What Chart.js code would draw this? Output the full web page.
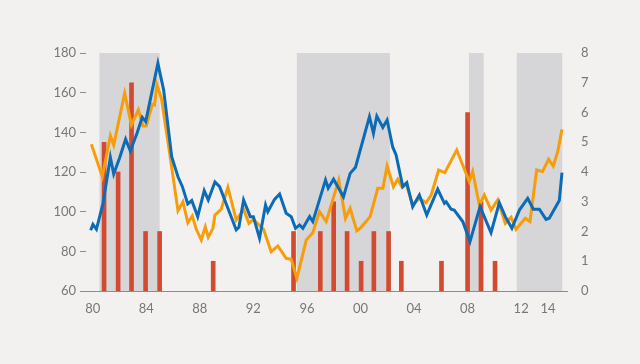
<!DOCTYPE html>
<html>
<head>
<meta charset="utf-8">
<script src="https://cdn.jsdelivr.net/npm/chart.js@4"></script>
<style>
  html, body { margin: 0; padding: 0; background: #f2f1ef; }
  #wrap { width: 640px; height: 364px; position: relative; }
</style>
</head>
<body>
<div id="wrap"><canvas id="chart" width="640" height="364"></canvas></div>
<script>
// x tick years and labels
const tickYears = [1980, 1984, 1988, 1992, 1996, 2000, 2004, 2008, 2012, 2014];
const tickLabels = ['80', '84', '88', '92', '96', '00', '04', '08', '12', '14'];

// shaded periods
const shadeStart = [1980.5, 1995.25, 2008.1, 2011.67];
const shadeEnd = [1985.0, 2002.2, 2009.2, 2015.07];

// red bars (right axis)
const barYears = [1980.85, 1981.9, 1982.9, 1983.95, 1985.0, 1989.0, 1995.0, 1997.0, 1998.0, 1999.0,
  2000.05, 2001.0, 2002.1, 2003.05, 2006.05, 2008.0, 2009.0, 2010.05];
const barValues = [5, 4, 7, 2, 2, 1, 2, 2, 3, 2, 1, 2, 2, 1, 1, 6, 3, 1];

// blue line (left axis)
const blueYears = [1979.85, 1980.02, 1980.28, 1980.77, 1981.32, 1981.57, 1982.0, 1982.46, 1982.81, 1983.31,
  1983.7, 1983.96, 1984.87, 1985.3, 1985.9, 1986.37, 1986.7, 1987.1, 1987.4, 1987.84,
  1988.33, 1988.63, 1989.13, 1989.48, 1990.72, 1990.92, 1991.27, 1991.77, 1992.0, 1992.46,
  1992.91, 1993.08, 1993.58, 1993.96, 1994.45, 1994.83, 1995.15, 1995.45, 1995.7, 1996.2,
  1996.44, 1997.39, 1997.59, 1997.99, 1998.73, 1999.23, 1999.63, 2000.67, 2000.97, 2001.22,
  2001.67, 2001.99, 2002.41, 2002.66, 2003.16, 2003.46, 2003.9, 2004.4, 2004.95, 2005.77,
  2006.27, 2006.4, 2006.77, 2007.0, 2007.64, 2008.18, 2008.93, 2009.75, 2010.37, 2010.82,
  2011.31, 2011.87, 2012.49, 2012.91, 2013.36, 2013.86, 2014.1, 2014.85, 2015.05];
const blueValues = [90.6, 93.6, 91.1, 104.2, 127.4, 119.0, 126.9, 136.5, 130.6, 139.5,
  147.6, 145.4, 174.8, 161.3, 127.7, 117.6, 112.6, 103.9, 105.6, 97.5,
  110.6, 105.9, 115.0, 112.6, 90.8, 92.1, 105.9, 97.5, 97.5, 86.6,
  103.4, 100.0, 106.2, 108.9, 99.2, 97.5, 91.6, 93.3, 91.6, 97.5,
  95.0, 116.0, 111.8, 116.3, 107.5, 119.3, 122.4, 147.9, 139.5, 148.2,
  142.5, 146.2, 132.5, 128.6, 112.6, 114.6, 102.5, 108.4, 98.3, 111.3,
  104.2, 105.0, 101.2, 100.8, 95.0, 84.9, 102.5, 89.4, 104.5, 97.5,
  91.6, 100.8, 106.7, 101.2, 101.2, 96.1, 96.7, 105.6, 119.7];

// orange line (left axis)
const orangeYears = [1979.9, 1980.72, 1981.32, 1981.57, 1982.39, 1982.89, 1983.41, 1983.75, 1984.0, 1984.46,
  1984.62, 1984.8, 1985.13, 1985.75, 1986.37, 1986.74, 1987.11, 1987.44, 1987.74, 1988.11,
  1988.41, 1988.63, 1988.98, 1989.13, 1989.6, 1990.1, 1990.72, 1991.27, 1991.67, 1992.0,
  1992.76, 1993.33, 1993.83, 1994.45, 1994.83, 1995.25, 1995.95, 1996.44, 1996.94, 1997.44,
  1998.38, 1998.88, 1999.23, 1999.72, 2000.05, 2000.72, 2001.29, 2001.67, 2001.99, 2002.46,
  2002.78, 2003.08, 2003.41, 2003.9, 2004.4, 2004.9, 2005.28, 2005.84, 2006.3, 2007.19,
  2008.13, 2008.38, 2008.88, 2009.25, 2009.75, 2010.25, 2010.82, 2011.25, 2011.62, 2012.31,
  2012.66, 2013.16, 2013.6, 2014.05, 2014.4, 2014.73, 2015.05];
const orangeValues = [134.0, 117.6, 138.3, 133.6, 159.7, 143.7, 151.3, 143.2, 143.2, 154.1,
  153.8, 163.9, 157.2, 129.4, 100.5, 105.0, 94.4, 97.8, 91.1, 85.7,
  92.4, 87.1, 91.6, 98.3, 101.2, 112.3, 95.8, 101.2, 94.1, 96.1,
  91.1, 79.8, 82.7, 76.5, 76.0, 66.4, 85.7, 89.4, 100.0, 95.0,
  116.0, 96.7, 101.7, 90.4, 92.1, 97.5, 111.8, 111.8, 123.0, 112.6,
  116.3, 112.6, 114.0, 103.4, 106.7, 104.5, 108.4, 121.0, 119.7, 131.1,
  115.1, 120.2, 103.4, 108.4, 100.8, 105.9, 94.1, 97.2, 91.1, 96.7,
  95.0, 121.0, 120.2, 126.4, 123.0, 130.2, 141.5];

const toPoints = (xs, ys) => xs.map((x, i) => ({ x, y: ys[i] }));

const shadePlugin = {
  id: 'shade',
  beforeDatasetsDraw(chart) {
    const { ctx, scales } = chart;
    const top = scales.y.getPixelForValue(180);
    const bottom = scales.y.getPixelForValue(60);
    ctx.save();
    ctx.fillStyle = '#d6d6d8';
    shadeStart.forEach((s, i) => {
      const x0 = scales.x.getPixelForValue(s);
      const x1 = scales.x.getPixelForValue(shadeEnd[i]);
      ctx.fillRect(x0, top, x1 - x0, bottom - top);
    });
    ctx.restore();
  },
  afterDatasetsDraw(chart) {
    // baseline from the left tick out to the right edge
    const { ctx, chartArea, scales } = chart;
    const y = Math.round(scales.y.getPixelForValue(60)) + 0.5;
    ctx.save();
    ctx.strokeStyle = '#8c8c8c';
    ctx.lineWidth = 1;
    ctx.beginPath();
    ctx.moveTo(chartArea.left - 6, y);
    ctx.lineTo(chartArea.right, y);
    ctx.stroke();
    ctx.restore();
  },
};

const tickFont = { family: 'Lato', size: 13, weight: '400' };
const tickColor = '#777777';

new Chart(document.getElementById('chart'), {
  data: {
    datasets: [
      {
        type: 'line',
        data: toPoints(blueYears, blueValues),
        borderColor: '#0b6bb7',
        borderWidth: 3,
        pointRadius: 0,
        tension: 0,
        yAxisID: 'y',
        order: 1,
      },
      {
        type: 'line',
        data: toPoints(orangeYears, orangeValues),
        borderColor: '#f59d0a',
        borderWidth: 3,
        pointRadius: 0,
        tension: 0,
        yAxisID: 'y',
        order: 2,
      },
      {
        type: 'bar',
        data: toPoints(barYears, barValues),
        backgroundColor: '#d24b30',
        barThickness: 4,
        yAxisID: 'y2',
        order: 3,
      },
    ],
  },
  options: {
    responsive: false,
    animation: false,
    devicePixelRatio: 1,
    layout: { padding: { top: 53, left: 0, right: 0, bottom: 0 } },
    plugins: { legend: { display: false }, tooltip: { enabled: false } },
    scales: {
      x: {
        type: 'linear',
        min: 1979.5,
        max: 2015.5,
        offset: false,
        afterBuildTicks(scale) {
          scale.ticks = tickYears.map((v) => ({ value: v }));
        },
        afterFit(scale) { scale.height = 73; },
        grid: { display: false, offset: false },
        border: { display: false },
        ticks: {
          font: tickFont,
          color: tickColor,
          padding: 2,
          maxRotation: 0,
          autoSkip: false,
          callback: (v) => tickLabels[tickYears.indexOf(v)],
        },
      },
      y: {
        position: 'left',
        min: 60,
        max: 180,
        afterFit(scale) { scale.width = 86; },
        grid: { drawOnChartArea: false, drawTicks: true, tickLength: 6, color: '#8c8c8c' },
        border: { display: false },
        ticks: { stepSize: 20, font: tickFont, color: tickColor, padding: 4 },
      },
      y2: {
        position: 'right',
        min: 0,
        max: 8,
        afterFit(scale) { scale.width = 72; },
        grid: { display: false },
        border: { display: false },
        ticks: { stepSize: 1, font: tickFont, color: tickColor, padding: 5 },
      },
    },
  },
  plugins: [shadePlugin],
});
</script>
</body>
</html>
